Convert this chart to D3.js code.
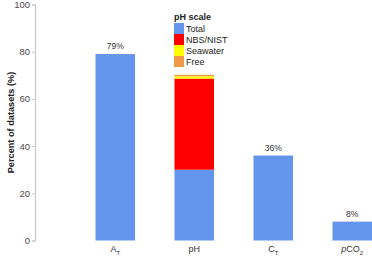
<!DOCTYPE html>
<html>
<head>
<meta charset="utf-8">
<script src="https://cdn.jsdelivr.net/npm/d3@7"></script>
<style>
  body { margin: 0; background: #fff; }
  svg { display: block; font-family: "Liberation Sans", Arial, sans-serif; }
</style>
</head>
<body>
<div id="chart"></div>
<script>
// categories along the x axis
var variables = ['AT', 'pH', 'CT', 'pCO2'];
// percent of datasets reporting each variable (single bars)
var singleValues = [79, null, 36, 8];
// pH bar split by pH scale
var phScales = ['Total', 'NBS/NIST', 'Seawater', 'Free'];
var phValues = [30, 38.6, 1.0, 0.6];
var phColors = ['#6495ED', '#FF0000', '#FFFF00', '#EE9A49'];
var yTicks = [0, 20, 40, 60, 80, 100];

var width = 372, height = 258;

var svg = d3.select('#chart').append('svg')
  .attr('width', width)
  .attr('height', height);

var x = d3.scaleBand()
  .domain(variables)
  .range([95.5, 372])
  .paddingInner(0.5)
  .paddingOuter(0);

var y = d3.scaleLinear()
  .domain([0, 100])
  .range([240.5, 4.5]);

// y axis
var yAxis = svg.append('g')
  .attr('transform', 'translate(35,0)')
  .call(d3.axisLeft(y).tickValues(yTicks).tickSize(3).tickPadding(2));
yAxis.select('.domain').attr('stroke', '#c8c8c8').attr('stroke-width', 1.2);
yAxis.selectAll('.tick line').attr('stroke', '#c8c8c8');
yAxis.selectAll('.tick text').attr('fill', '#4d4d4d').style('font-size', '9.5px');

svg.append('text')
  .attr('transform', 'translate(12,' + y(50) + ') rotate(-90)')
  .attr('text-anchor', 'middle')
  .attr('dominant-baseline', 'middle')
  .style('font-size', '9.2px')
  .style('font-weight', 'bold')
  .attr('fill', '#222')
  .text('Percent of datasets (%)');

// single bars
var singles = variables.map(function(v, i) {
  return {'name': v, 'value': singleValues[i]};
}).filter(function(d) { return d.value != null; });

svg.selectAll('.bar')
  .data(singles)
  .enter()
    .append('rect')
      .attr('class', 'bar')
      .attr('x', function(d) { return x(d.name); })
      .attr('width', x.bandwidth())
      .attr('y', function(d) { return y(d.value); })
      .attr('height', function(d) { return y(0) - y(d.value); })
      .attr('fill', phColors[0]);

svg.selectAll('.barlabel')
  .data(singles)
  .enter()
    .append('text')
      .attr('class', 'barlabel')
      .attr('x', function(d) { return x(d.name) + x.bandwidth() / 2; })
      .attr('y', function(d) { return y(d.value) - 5; })
      .attr('text-anchor', 'middle')
      .style('font-size', '8.5px')
      .attr('fill', '#333')
      .text(function(d) { return d.value + '%'; });

// stacked pH bar
var stackRow = {};
phScales.forEach(function(s, i) { stackRow[s] = phValues[i]; });
var stacked = d3.stack().keys(phScales)([stackRow]);

svg.selectAll('.phbar')
  .data(stacked)
  .enter()
    .append('rect')
      .attr('class', 'phbar')
      .attr('x', x('pH'))
      .attr('width', x.bandwidth())
      .attr('y', function(d) { return y(d[0][1]); })
      .attr('height', function(d) { return y(d[0][0]) - y(d[0][1]); })
      .attr('fill', function(d, i) { return phColors[i]; });

// x axis labels
var xl = svg.append('g');
variables.forEach(function(v) {
  var t = xl.append('text')
    .attr('x', x(v) + x.bandwidth() / 2)
    .attr('y', 252)
    .attr('text-anchor', 'middle')
    .style('font-size', '9px')
    .attr('fill', '#333');
  if(v == 'AT' || v == 'CT') {
    t.append('tspan').text(v.charAt(0));
    t.append('tspan').attr('dy', 2.5).style('font-size', '6px').text('T');
  } else if(v == 'pCO2') {
    t.append('tspan').style('font-style', 'italic').text('p');
    t.append('tspan').text('CO');
    t.append('tspan').attr('dy', 2.5).style('font-size', '6px').text('2');
  } else {
    t.text(v);
  }
});

// legend
var legend = svg.append('g').attr('transform', 'translate(174,0)');
legend.append('text')
  .attr('x', 0)
  .attr('y', 20)
  .style('font-size', '9px')
  .style('font-weight', 'bold')
  .attr('fill', '#222')
  .text('pH scale');

var rows = legend.selectAll('.key')
  .data(phScales)
  .enter()
    .append('g')
      .attr('class', 'key')
      .attr('transform', function(d, i) { return 'translate(0,' + (23 + i * 11) + ')'; });

rows.append('rect')
  .attr('width', 10)
  .attr('height', 11)
  .attr('fill', function(d, i) { return phColors[i]; });

rows.append('text')
  .attr('x', 12)
  .attr('y', 9)
  .style('font-size', '9px')
  .attr('fill', '#222')
  .text(function(d) { return d; });
</script>
</body>
</html>
